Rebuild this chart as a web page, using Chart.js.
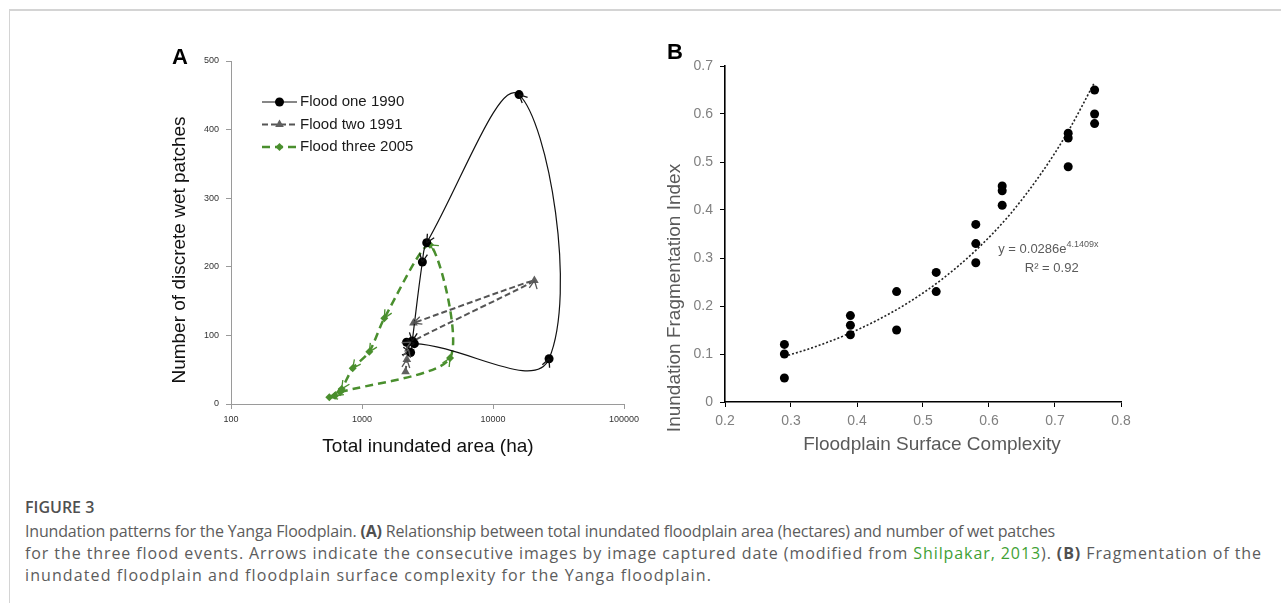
<!DOCTYPE html>
<html><head><meta charset="utf-8">
<script src="https://cdn.jsdelivr.net/npm/chart.js@4.4.1/dist/chart.umd.min.js"></script>
<style>
html,body{margin:0;padding:0;background:#fff;}
#page{position:relative;width:1281px;height:603px;overflow:hidden;background:#fff;}
#topline{position:absolute;left:9px;top:9px;width:1272px;height:0;border-top:2px solid #d4d4d4;}
#leftline{position:absolute;left:9px;top:9px;width:0;height:594px;border-left:1px solid #d4d4d4;}
#cA{position:absolute;left:150px;top:30px;}
#cB{position:absolute;left:640px;top:30px;}
#figlab{position:absolute;left:25px;top:496px;line-height:22px;font-family:'Open Sans',sans-serif;font-size:16px;font-weight:600;color:#505050;white-space:nowrap;}
#caption{position:absolute;left:25px;top:520px;line-height:22px;font-family:'Open Sans',sans-serif;font-size:16px;color:#5c5c5c;white-space:nowrap;}
#caption .capline{display:inline-block;}
#caption b{color:#505050;}
#caption .lnk{color:#3fa135;}
</style></head>
<body>
<div id="page">
  <div id="topline"></div><div id="leftline"></div>
  <canvas id="cA" width="500" height="440"></canvas>
  <canvas id="cB" width="520" height="440"></canvas>
  <div id="figlab">FIGURE 3</div>
  <div id="caption"><span class="capline">Inundation patterns for the Yanga Floodplain. <b>(A)</b> Relationship between total inundated floodplain area (hectares) and number of wet patches</span><br><span class="capline">for the three flood events. Arrows indicate the consecutive images by image captured date (modified from <span class="lnk">Shilpakar, 2013</span>). <b>(B)</b> Fragmentation of the</span><br><span class="capline">inundated floodplain and floodplain surface complexity for the Yanga floodplain.</span></div>
</div>
<script>
// ---------- Panel A data ----------
const areaTicks = [100, 1000, 10000, 100000];
const patchTicks = [0, 100, 200, 300, 400, 500];
const seriesNames = ['Flood one 1990', 'Flood two 1991', 'Flood three 2005'];
const floodOneArea = [2190, 2350, 2510, 26800, 15800, 3120, 2890, 2420];
const floodOnePatches = [90, 75, 88, 66, 451, 235, 207, 92];
const floodTwoArea = [2150, 2200, 2260, 2350, 20700, 2470];
const floodTwoPatches = [47, 65, 80, 90, 180, 118];
const floodThreeArea = [680, 4700, 3300, 1480, 1137, 849, 700, 622, 563];
const floodThreePatches = [17, 67, 232, 125, 76, 52, 22, 12, 10];

// ---------- Panel B data ----------
const complexityTicks = [0.2, 0.3, 0.4, 0.5, 0.6, 0.7, 0.8];
const fragTicks = [0, 0.1, 0.2, 0.3, 0.4, 0.5, 0.6, 0.7];
const complexity = [0.29, 0.29, 0.29, 0.39, 0.39, 0.39, 0.46, 0.46, 0.52, 0.52, 0.58, 0.58, 0.58, 0.62, 0.62, 0.62, 0.72, 0.72, 0.72, 0.76, 0.76, 0.76];
const fragmentation = [0.12, 0.10, 0.05, 0.18, 0.16, 0.14, 0.23, 0.15, 0.27, 0.23, 0.37, 0.33, 0.29, 0.45, 0.44, 0.41, 0.56, 0.55, 0.49, 0.65, 0.60, 0.58];
const trendX = [0.29, 0.33, 0.38, 0.43, 0.48, 0.53, 0.58, 0.63, 0.68, 0.72, 0.76];
const trendY = [0.095, 0.112, 0.138, 0.170, 0.209, 0.257, 0.316, 0.388, 0.478, 0.564, 0.666];
const trendLabel = ['y = 0.0286e', '4.1409x', 'R\u00b2 = 0.92'];

const pts = (xs, ys) => xs.map((x, i) => ({x: x, y: ys[i]}));

// caption line fitting (layout only)
const capRight = [1055, 1262, 712];
document.querySelectorAll('#caption .capline').forEach((el, i) => {
  const w = el.getBoundingClientRect().width;
  const n = el.textContent.length;
  el.style.letterSpacing = ((capRight[i] - 25 - w) / n).toFixed(3) + 'px';
});

// ---------- plugins ----------
const arrowPlugin = {
  id: 'arrows',
  afterDatasetsDraw(chart) {
    const ctx = chart.ctx;
    chart.data.datasets.forEach((ds, di) => {
      const p = chart.getDatasetMeta(di).data;
      ctx.save();
      ctx.strokeStyle = ds.borderColor; ctx.lineWidth = 1.3; ctx.setLineDash([]);
      for (let i = 1; i < p.length; i++) {
        const q = p[i];
        let dx = q.x - (q.cp1x ?? p[i-1].x), dy = q.y - (q.cp1y ?? p[i-1].y);
        let len = Math.hypot(dx, dy);
        if (len < 1) { dx = q.x - p[i-1].x; dy = q.y - p[i-1].y; len = Math.hypot(dx, dy); }
        if (len < 0.01) continue;
        const ux = dx / len, uy = dy / len, L = 9, a = 0.45;
        for (const s of [-1, 1]) {
          const c = Math.cos(a * s), sn = Math.sin(a * s);
          const wx = -(ux * c - uy * sn), wy = -(ux * sn + uy * c);
          ctx.beginPath(); ctx.moveTo(q.x, q.y); ctx.lineTo(q.x + wx * L, q.y + wy * L); ctx.stroke();
        }
      }
      ctx.restore();
    });
  }
};

const legendA = {
  id: 'legendA',
  afterDraw(chart) {
    const ctx = chart.ctx, ca = chart.chartArea;
    chart.data.datasets.forEach((ds, i) => {
      const y = ca.top + 41 + i * 22.5;
      const x0 = ca.left + 31, x1 = ca.left + 66, xm = (x0 + x1) / 2;
      ctx.save();
      ctx.strokeStyle = ds.borderColor; ctx.lineWidth = ds.borderWidth; ctx.setLineDash(ds.borderDash || []);
      ctx.beginPath(); ctx.moveTo(x0, y); ctx.lineTo(x1, y); ctx.stroke();
      ctx.setLineDash([]);
      ctx.fillStyle = ds.backgroundColor; ctx.strokeStyle = ds.backgroundColor;
      Chart.helpers.drawPoint(ctx, {pointStyle: ds.pointStyle, radius: ds.pointRadius, borderWidth: 0, rotation: 0}, xm, y);
      ctx.fillStyle = '#1a1a1a'; ctx.font = '15px Arial'; ctx.textBaseline = 'middle'; ctx.textAlign = 'left';
      ctx.fillText(ds.label, x1 + 3, y);
      ctx.restore();
    });
  }
};

function textPlugin(id, items) {
  return {
    id: id,
    afterDraw(chart) {
      const ctx = chart.ctx, ca = chart.chartArea;
      items.forEach(it => {
        const pos = it.pos(chart, ca);
        ctx.save();
        ctx.font = it.font; ctx.fillStyle = it.color;
        ctx.textAlign = 'center'; ctx.textBaseline = 'middle';
        ctx.translate(pos.x, pos.y);
        if (it.rot) ctx.rotate(it.rot);
        ctx.fillText(it.text, 0, 0);
        ctx.restore();
      });
    }
  };
}

const eqPlugin = {
  id: 'eq',
  afterDraw(chart) {
    const ctx = chart.ctx, xs = chart.scales.x, ys = chart.scales.y;
    ctx.save();
    ctx.fillStyle = '#5a5a5a'; ctx.textBaseline = 'middle'; ctx.textAlign = 'left';
    ctx.font = '13px Arial'; const w1 = ctx.measureText(trendLabel[0]).width;
    ctx.font = '9px Arial'; const w2 = ctx.measureText(trendLabel[1]).width;
    const cx = xs.getPixelForValue(0.69), cy = ys.getPixelForValue(0.317);
    const x0 = cx - (w1 + w2) / 2;
    ctx.font = '13px Arial'; ctx.fillText(trendLabel[0], x0, cy);
    ctx.font = '9px Arial'; ctx.fillText(trendLabel[1], x0 + w1, cy - 5);
    ctx.font = '13px Arial'; ctx.textAlign = 'center';
    ctx.fillText(trendLabel[2], xs.getPixelForValue(0.695), ys.getPixelForValue(0.279));
    ctx.restore();
  }
};

// ---------- Chart A ----------
new Chart(document.getElementById('cA'), {
  type: 'scatter',
  data: {
    datasets: [
      {label: seriesNames[0], data: pts(floodOneArea, floodOnePatches), showLine: true, tension: 0.4,
       borderColor: '#111111', backgroundColor: '#000000', borderWidth: 1.2, pointStyle: 'circle', pointRadius: 4.5, pointBorderWidth: 0},
      {label: seriesNames[1], data: pts(floodTwoArea, floodTwoPatches), showLine: true, tension: 0.2,
       borderColor: '#555555', backgroundColor: '#606060', borderWidth: 2, borderDash: [6, 3], pointStyle: 'triangle', pointRadius: 5, pointBorderWidth: 0},
      {label: seriesNames[2], data: pts(floodThreeArea, floodThreePatches), showLine: true, tension: 0.25,
       borderColor: '#4a8f2e', backgroundColor: '#4a8f2e', borderWidth: 2.5, borderDash: [8, 5], pointStyle: 'rectRot', pointRadius: 4, pointBorderWidth: 0}
    ]
  },
  options: {
    responsive: false, animation: false,
    layout: {padding: {left: 0, top: 31, right: 26, bottom: 0}},
    plugins: {legend: {display: false}, tooltip: {enabled: false}},
    scales: {
      x: {type: 'logarithmic', min: 100, max: 100000,
          afterBuildTicks: s => { s.ticks = areaTicks.map(v => ({value: v})); },
          afterFit: s => { s.height = 66; },
          ticks: {callback: v => String(v), font: {family: 'Arial', size: 9}, color: '#333333', padding: 5, maxRotation: 0, autoSkip: false},
          grid: {display: true, drawOnChartArea: false, drawTicks: true, tickLength: 5, color: '#9a9a9a'},
          border: {display: true, color: '#9a9a9a', width: 1}},
      y: {min: 0, max: 500,
          afterBuildTicks: s => { s.ticks = patchTicks.map(v => ({value: v})); },
          afterFit: s => { s.width = 81; },
          ticks: {callback: v => String(v), font: {family: 'Arial', size: 9}, color: '#333333', padding: 7},
          grid: {display: true, drawOnChartArea: false, drawTicks: true, tickLength: 5, color: '#9a9a9a'},
          border: {display: true, color: '#9a9a9a', width: 1}}
    }
  },
  plugins: [arrowPlugin, legendA, textPlugin('textsA', [
    {text: 'Number of discrete wet patches', font: '19px Arial', color: '#111', rot: -Math.PI / 2, pos: (c, ca) => ({x: ca.left - 51, y: ca.top + 189})},
    {text: 'Total inundated area (ha)', font: '19px Arial', color: '#111', pos: (c, ca) => ({x: ca.left + 197, y: ca.bottom + 43})},
    {text: 'A', font: 'bold 22px Arial', color: '#000', pos: (c, ca) => ({x: ca.left - 51, y: ca.top - 3})}
  ])]
});

// ---------- Chart B ----------
new Chart(document.getElementById('cB'), {
  type: 'scatter',
  data: {
    datasets: [
      {label: 'Fragmentation', data: pts(complexity, fragmentation), backgroundColor: '#000', borderColor: '#000',
       pointStyle: 'circle', pointRadius: 4.5, pointBorderWidth: 0},
      {label: 'Expon. trend', data: pts(trendX, trendY), showLine: true, cubicInterpolationMode: 'monotone',
       borderColor: '#222', borderWidth: 1.6, borderDash: [2, 2], pointRadius: 0}
    ]
  },
  options: {
    responsive: false, animation: false,
    layout: {padding: {left: 0, top: 36, right: 39, bottom: 0}},
    plugins: {legend: {display: false}, tooltip: {enabled: false}},
    scales: {
      x: {type: 'linear', min: 0.2, max: 0.8,
          afterBuildTicks: s => { s.ticks = complexityTicks.map(v => ({value: v})); },
          afterFit: s => { s.height = 68; },
          ticks: {callback: v => String(v), font: {family: 'Arial', size: 14}, color: '#808080', padding: 6, maxRotation: 0, autoSkip: false},
          grid: {display: true, drawOnChartArea: false, drawTicks: true, tickLength: 5, color: '#000'},
          border: {display: true, color: '#000', width: 1.6}},
      y: {min: 0, max: 0.7,
          afterBuildTicks: s => { s.ticks = fragTicks.map(v => ({value: v})); },
          afterFit: s => { s.width = 85; },
          ticks: {callback: v => String(v), font: {family: 'Arial', size: 14}, color: '#808080', padding: 7},
          grid: {display: true, drawOnChartArea: false, drawTicks: true, tickLength: 5, color: '#000'},
          border: {display: true, color: '#000', width: 1.6}}
    }
  },
  plugins: [eqPlugin, textPlugin('textsB', [
    {text: 'Inundation Fragmentation Index', font: '19px Arial', color: '#5a5a5a', rot: -Math.PI / 2, pos: (c, ca) => ({x: ca.left - 50, y: ca.top + 232})},
    {text: 'Floodplain Surface Complexity', font: '19px Arial', color: '#5a5a5a', pos: (c, ca) => ({x: ca.left + 207, y: ca.bottom + 43})},
    {text: 'B', font: 'bold 22px Arial', color: '#000', pos: (c, ca) => ({x: ca.left - 50, y: ca.top - 13})}
  ])]
});
</script>
</body></html>
